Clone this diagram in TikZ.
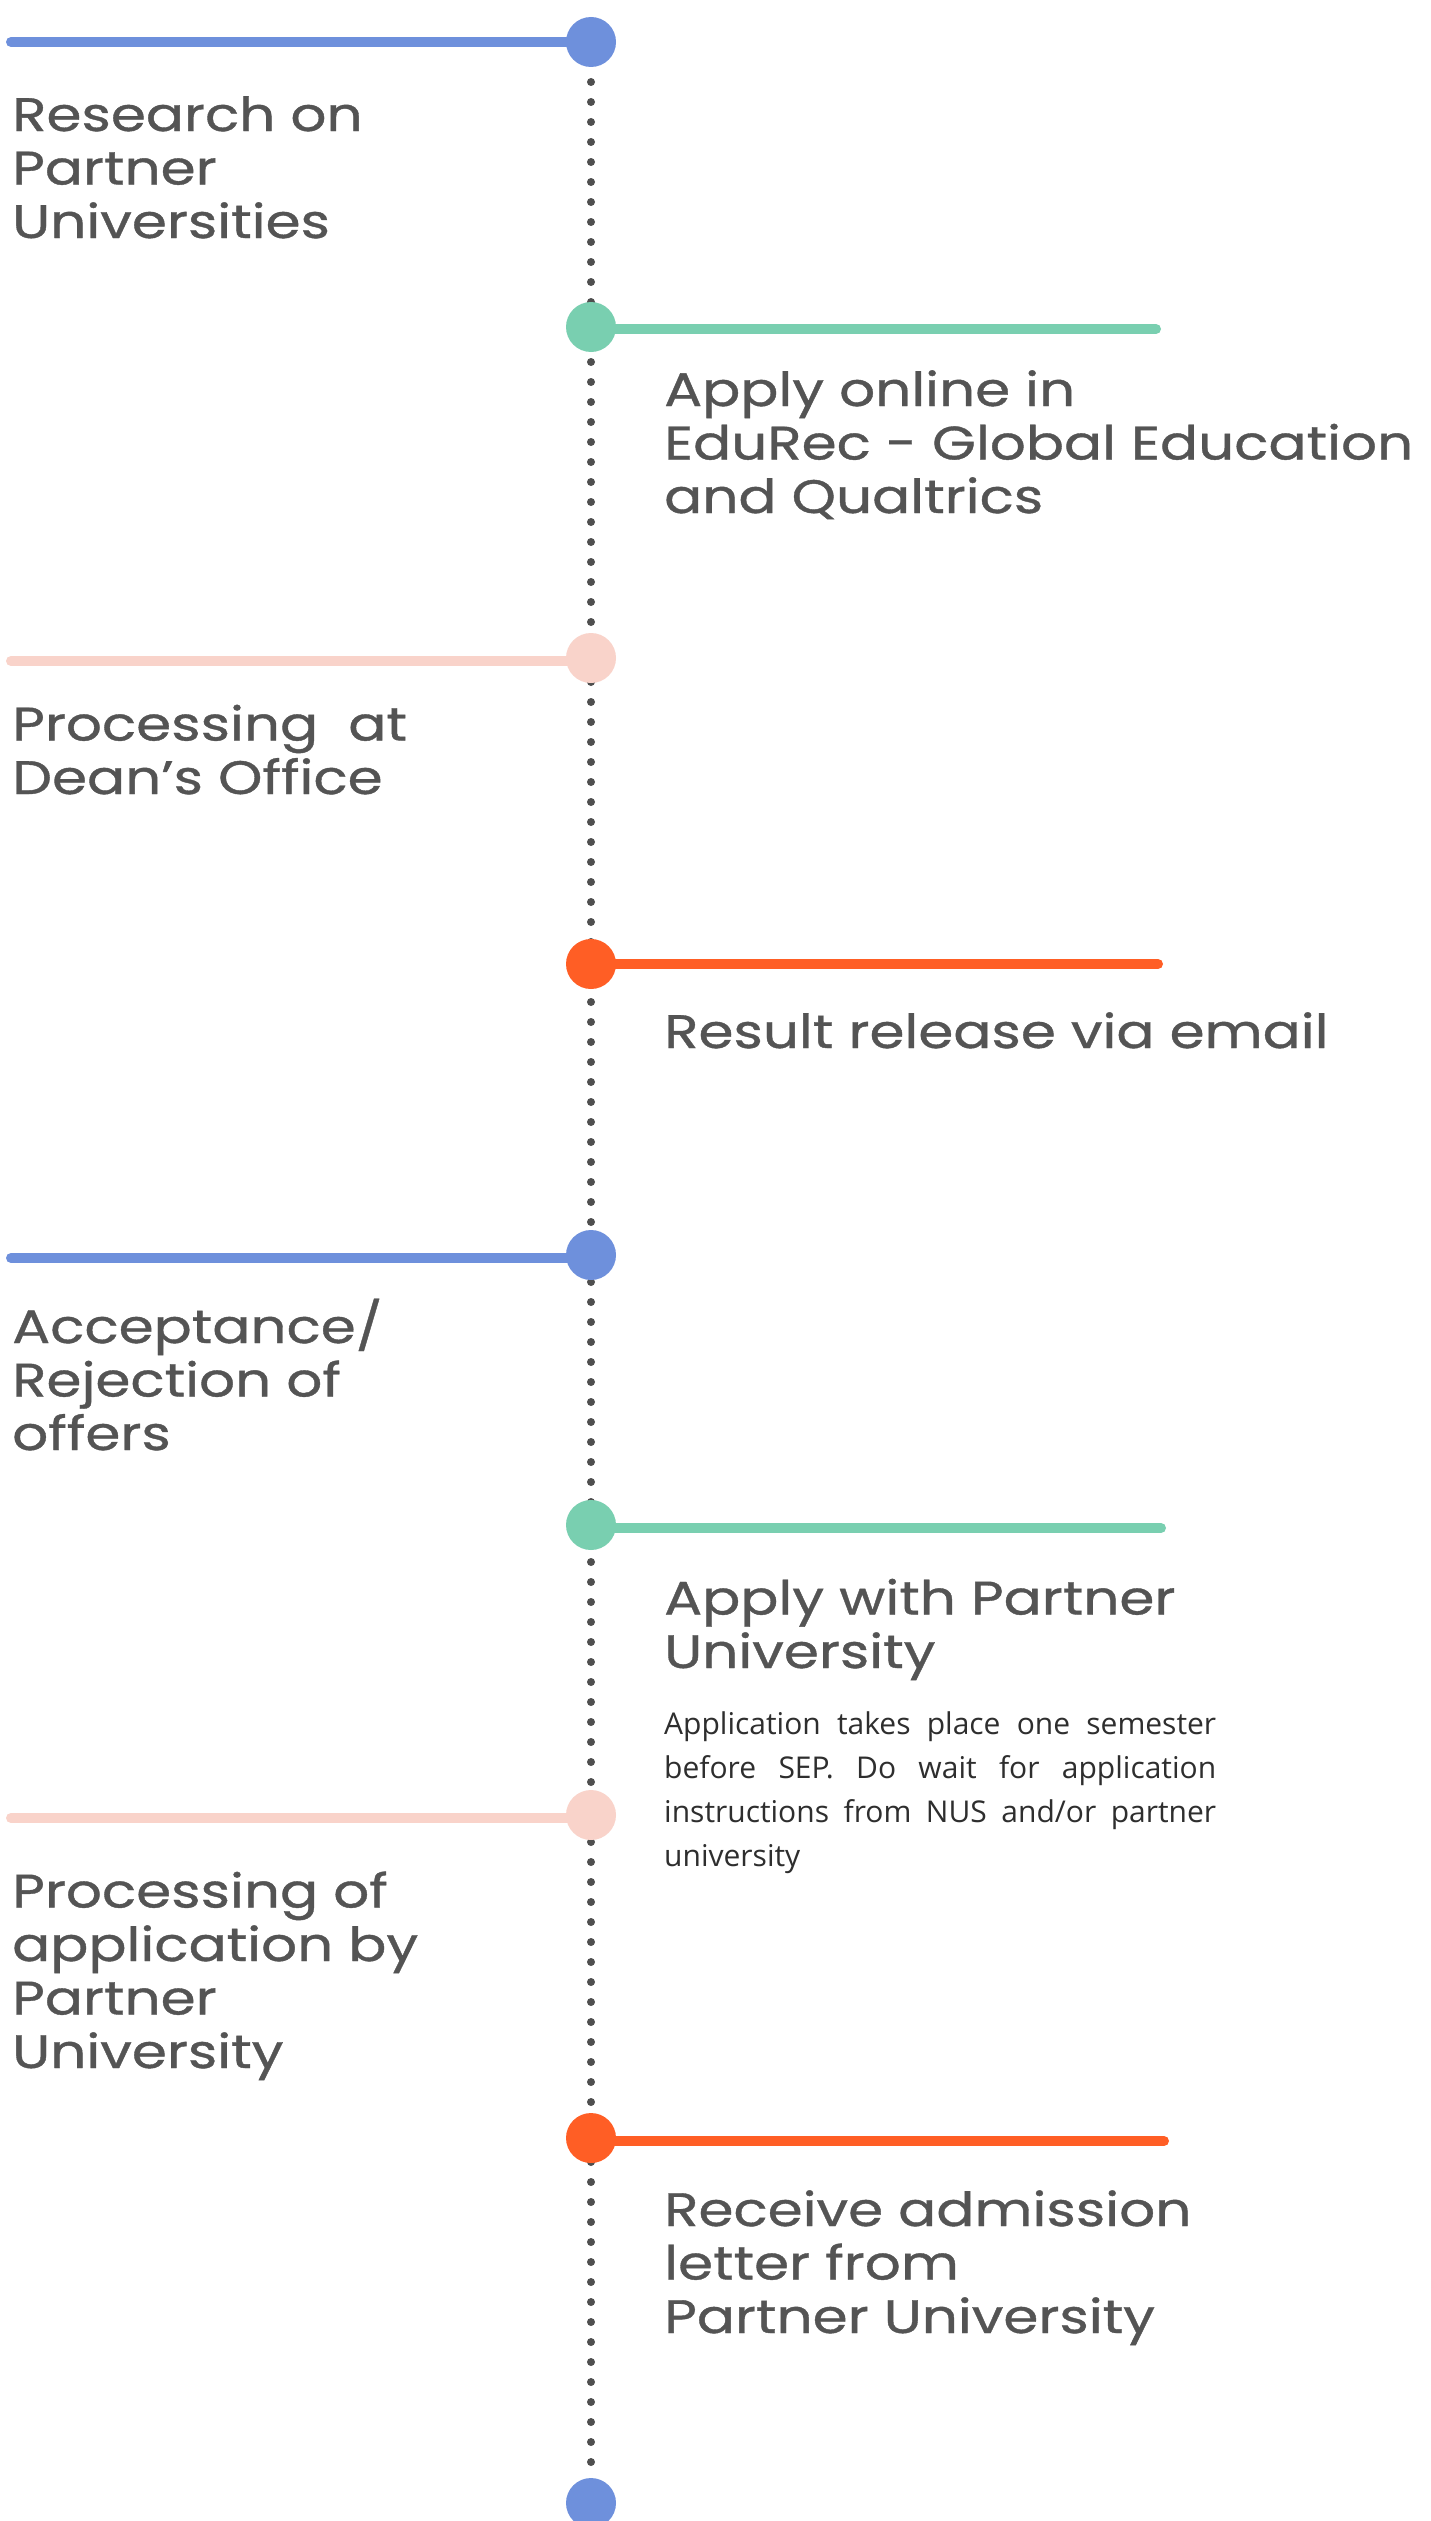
\documentclass[tikz,border=0pt]{standalone}
\usepackage{fontspec}
\setmainfont{Poppins}[FakeStretch=1.2, FakeBold=0.8]
\newfontfamily\bodyfont{Open Sans}
\definecolor{cblue}{HTML}{6E90DC}
\definecolor{cgreen}{HTML}{79CFB0}
\definecolor{cpink}{HTML}{F9D3CA}
\definecolor{corange}{HTML}{FF5E25}
\definecolor{ctext}{HTML}{545454}
\definecolor{cbody}{HTML}{2E2E2E}
\definecolor{cdot}{HTML}{4F4F4F}
\tikzset{
  dotc/.style={circle, fill=#1, minimum size=50pt, inner sep=0pt},
  hline/.style={line width=10pt, line cap=round, draw=#1},
  head/.style={inner sep=0pt, anchor=base west, align=left, text=ctext, font=\fontsize{47}{53.5}\selectfont},
  body/.style={inner sep=0pt, anchor=base west, text=cbody, text width=552pt, align=justify, font=\bodyfont\fontsize{30}{44}\selectfont},
}
\begin{document}
\begin{tikzpicture}[x=1pt, y=-1pt]
\useasboundingbox[fill=white] (0,0) rectangle (1430,2521);
% centres
\coordinate (p1) at (591,42);
\coordinate (p9) at (591,2503);
\draw[cdot, line width=8pt, line cap=round, dash pattern=on 0pt off 20pt] (p1) -- (p9);
% horizontal lines
\coordinate (e1) at (11,42);
\coordinate (e2) at (1156,329);
\coordinate (e3) at (11,661);
\coordinate (e4) at (1158,964);
\coordinate (e5) at (11,1258);
\coordinate (e6) at (1161,1528);
\coordinate (e7) at (11,1818);
\coordinate (e8) at (1164,2141);
\draw[hline=cblue] (591,42) -- (e1);
\draw[hline=cgreen] (591,329) -- (e2);
\draw[hline=cpink] (591,661) -- (e3);
\draw[hline=corange] (591,964) -- (e4);
\draw[hline=cblue] (591,1258) -- (e5);
\draw[hline=cgreen] (591,1528) -- (e6);
\draw[hline=cpink] (591,1818) -- (e7);
\draw[hline=corange] (591,2141) -- (e8);
% circles
\node[dotc=cblue] (c1) at (p1) {};
\node[dotc=cgreen] (c2) at (591,327) {};
\node[dotc=cpink] (c3) at (591,658) {};
\node[dotc=corange] (c4) at (591,964) {};
\node[dotc=cblue] (c5) at (591,1255) {};
\node[dotc=cgreen] (c6) at (591,1525) {};
\node[dotc=cpink] (c7) at (591,1815) {};
\node[dotc=corange] (c8) at (591,2138) {};
\node[dotc=cblue] (c9) at (p9) {};
% texts (anchored at the baseline of the last line)
\node[head] (t1) at (12,238) {Research on\\Partner\\Universities};
\node[head] (t2) at (664,513) {Apply online in\\EduRec - Global Education\\and Qualtrics};
\node[head] (t3) at (12,794) {Processing\ \ at\\Dean\char39 s Office};
\node[head] (t4) at (664,1048) {Result release via email};
\node[head] (t5) at (12,1450) {Acceptance/\\Rejection of\\offers};
\node[head] (t6) at (664,1668) {Apply with Partner\\University};
\node[body] (t7) at (664,1734) {Application takes place one semester\linebreak before SEP. Do wait for application\linebreak instructions from NUS and/or partner\linebreak university};
\node[head] (t8) at (12,2068) {Processing of\\application by\\Partner\\University};
\node[head] (t9) at (664,2333) {Receive admission\\letter from\\Partner University};
\end{tikzpicture}
\end{document}
